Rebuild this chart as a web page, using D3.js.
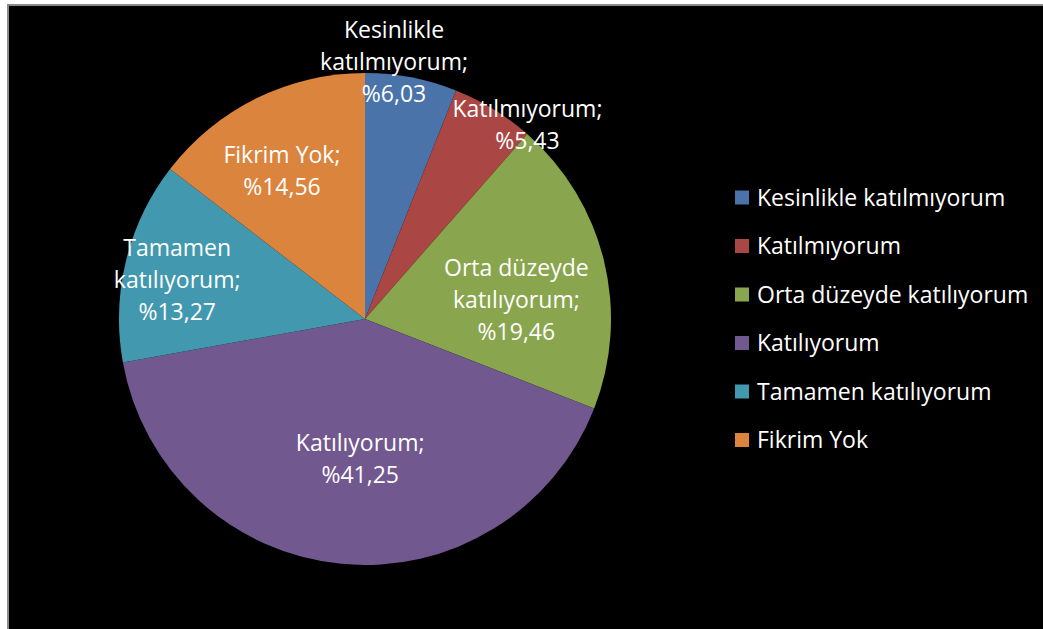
<!DOCTYPE html>
<html><head><meta charset="utf-8">
<script src="https://cdn.jsdelivr.net/npm/d3@7"></script>
<style>html,body{margin:0;padding:0;background:#fff;overflow:hidden}</style>
</head><body>
<svg id="c" width="1043" height="629"></svg>
<script>
const categories = ["Kesinlikle katılmıyorum","Katılmıyorum","Orta düzeyde katılıyorum","Katılıyorum","Tamamen katılıyorum","Fikrim Yok"];
const values = [6.03, 5.43, 19.46, 41.25, 13.27, 14.56];
const valueLabels = ["%6,03","%5,43","%19,46","%41,25","%13,27","%14,56"];
const labelLines = [["Kesinlikle","katılmıyorum;"],["Katılmıyorum;"],["Orta düzeyde","katılıyorum;"],["Katılıyorum;"],["Tamamen","katılıyorum;"],["Fikrim Yok;"]];
const colors = ["#4A73AA","#AA4644","#89A54E","#71588F","#4198AF","#DB843D"];
// label placement: [angle offset (deg), radius ratio]
const labelLayout = [[-4.4,1.05],[8.4,1.03],[6.7,0.62],[-3.6,0.57],[-1.9,0.78],[-3.1,0.69]];

const svg = d3.select("#c");
svg.append("rect").attr("x",8).attr("y",5).attr("width",1043).attr("height",629)
  .attr("fill","#000").attr("stroke","#8a8a8a").attr("stroke-width",2);

const cx = 365, cy = 319, R = 246;
const font = "'Open Sans', Lato, sans-serif";
const fs = "23px";
const g = svg.append("g").attr("transform",`translate(${cx},${cy})`);
const pie = d3.pie().sort(null).value(d=>d);
const arcs = pie(values);
const arc = d3.arc().innerRadius(0).outerRadius(R);
g.selectAll("path").data(arcs).join("path").attr("d",arc).attr("fill",(d,i)=>colors[i]);

const lineH = 32;
arcs.forEach((a,i)=>{
  const [dA, rr] = labelLayout[i];
  const ang = (a.startAngle + a.endAngle)/2 + dA*Math.PI/180;
  const x = Math.sin(ang)*R*rr, y = -Math.cos(ang)*R*rr;
  const lines = labelLines[i].concat([valueLabels[i]]);
  const t = g.append("text").attr("text-anchor","middle").attr("fill","#fff")
    .style("font-family",font).style("font-size",fs);
  const y0 = y - (lines.length-1)*lineH/2;
  lines.forEach((l,k)=>{
    t.append("tspan").attr("x",x).attr("y",y0+k*lineH).attr("dy","0.35em").text(l);
  });
});

const leg = svg.append("g");
const ly0 = 197.5, lstep = 48.5;
categories.forEach((c,i)=>{
  const y = ly0 + i*lstep;
  leg.append("rect").attr("x",735).attr("y",y-7).attr("width",14).attr("height",14).attr("fill",colors[i]);
  leg.append("text").attr("x",757).attr("y",y).attr("dy","0.35em").attr("fill","#fff")
    .style("font-family",font).style("font-size",fs).text(c);
});
</script>
</body></html>
